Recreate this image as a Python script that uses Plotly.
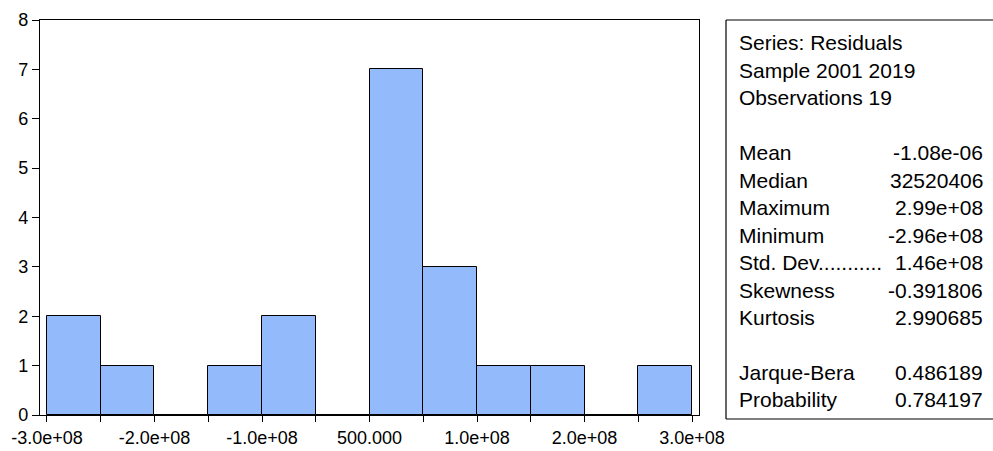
import plotly.graph_objects as go

# Histogram of residuals: bin edges and counts
bin_edges = [-3.0e8, -2.5e8, -2.0e8, -1.5e8, -1.0e8, -0.5e8, 0.0,
             0.5e8, 1.0e8, 1.5e8, 2.0e8, 2.5e8, 3.0e8]
counts = [2, 1, 0, 1, 2, 0, 7, 3, 1, 1, 0, 1]

# X tick positions and labels
x_tick_vals = [-3.0e8, -2.5e8, -2.0e8, -1.5e8, -1.0e8, -0.5e8, 0.0,
               0.5e8, 1.0e8, 1.5e8, 2.0e8, 2.5e8, 3.0e8]
x_tick_text = ["-3.0e+08", "", "-2.0e+08", "", "-1.0e+08", "", "500.000",
               "", "1.0e+08", "", "2.0e+08", "", "3.0e+08"]

# Summary statistics panel (None = blank line)
header_lines = ["Series: Residuals", "Sample 2001 2019", "Observations 19"]
stat_names = ["Mean", "Median", "Maximum", "Minimum", "Std. Dev...........",
              "Skewness", "Kurtosis", None, "Jarque-Bera", "Probability"]
stat_values = ["-1.08e-06", "32520406", "2.99e+08", "-2.96e+08", "1.46e+08",
               "-0.391806", "2.990685", None, "0.486189", "0.784197"]

centers = [(a + b) / 2 for a, b in zip(bin_edges[:-1], bin_edges[1:])]
widths = [b - a for a, b in zip(bin_edges[:-1], bin_edges[1:])]

W, H = 993, 451
L, R, T, B = 40, 294, 20, 36
plot_w = W - L - R
plot_h = H - T - B

FONT = "Liberation Sans, Arial, sans-serif"

fig = go.Figure()
fig.add_trace(go.Bar(
    x=centers, y=counts, width=widths,
    marker=dict(color="#93BBFB", line=dict(color="#000000", width=1)),
    hoverinfo="x+y",
))


def px_x(p):
    return (p - L) / plot_w


def px_y(p):
    return (H - B - p) / plot_h


shapes = []
box_left, box_top, box_bottom, box_right = 726, 20, 419, 1000
for x0, y0, x1, y1 in [(box_left, box_top, box_left, box_bottom),
                       (box_left, box_top, box_right, box_top),
                       (box_left, box_bottom, box_right, box_bottom)]:
    shapes.append(dict(type="line", xref="paper", yref="paper",
                       x0=px_x(x0), y0=px_y(y0), x1=px_x(x1), y1=px_y(y1),
                       line=dict(color="#000000", width=1.2)))

annotations = []
row_h = 27.45
first_row = 43
text_left = 737
text_right = 985
stat_font = dict(family=FONT, size=21, color="#000000")

rows = [(t, None) for t in header_lines] + [(None, None)] + list(zip(stat_names, stat_values))
for i, (name, value) in enumerate(rows):
    yc = px_y(first_row + i * row_h)
    if name is not None:
        annotations.append(dict(xref="paper", yref="paper", x=px_x(text_left), y=yc,
                                text=name, showarrow=False, xanchor="left",
                                yanchor="middle", font=stat_font))
    if value is not None:
        annotations.append(dict(xref="paper", yref="paper", x=px_x(text_right), y=yc,
                                text=value, showarrow=False, xanchor="right",
                                yanchor="middle", font=stat_font))

fig.update_layout(
    width=W, height=H,
    margin=dict(l=L, r=R, t=T, b=B, pad=0),
    paper_bgcolor="#FFFFFF", plot_bgcolor="#FFFFFF",
    showlegend=False, bargap=0,
    font=dict(family=FONT, size=18, color="#000000"),
    shapes=shapes, annotations=annotations,
    xaxis=dict(range=[-3.065e8, 3.065e8], tickmode="array",
               tickvals=x_tick_vals, ticktext=x_tick_text,
               ticks="outside", ticklen=6, tickwidth=1, tickcolor="#000000",
               showline=True, linecolor="#000000", linewidth=1.2, mirror=True,
               showgrid=False, zeroline=False, automargin=False,
               tickfont=dict(family=FONT, size=18, color="#000000")),
    yaxis=dict(range=[0, 8], dtick=1, tick0=0,
               ticks="outside", ticklen=7, tickwidth=1, tickcolor="#000000",
               showline=True, linecolor="#000000", linewidth=1.2, mirror=True,
               showgrid=False, zeroline=False, automargin=False,
               tickfont=dict(family=FONT, size=18, color="#000000")),
)

fig.write_html("out.html")
